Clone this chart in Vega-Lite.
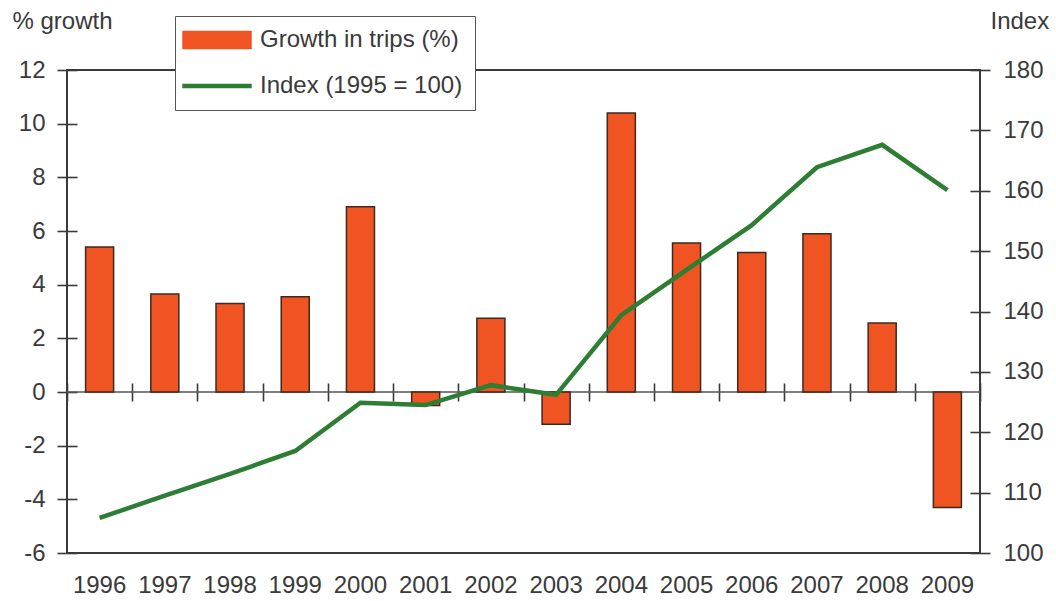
{
  "$schema": "https://vega.github.io/schema/vega-lite/v6.json",
  "width": 913,
  "height": 483,
  "autosize": "none",
  "padding": {"left": 67, "top": 70, "right": 76, "bottom": 48},
  "background": "white",
  "config": {
    "font": "Liberation Sans",
    "view": {"stroke": "#3a3a3a", "strokeWidth": 2},
    "axis": {
      "grid": false,
      "labelFont": "Liberation Sans",
      "labelFontSize": 24,
      "labelColor": "#3a3a3a",
      "titleFont": "Liberation Sans",
      "titleFontSize": 24,
      "titleFontWeight": "normal",
      "titleColor": "#3a3a3a",
      "tickColor": "#3a3a3a",
      "tickWidth": 1.6,
      "domainColor": "#3a3a3a",
      "labelFlush": false,
      "labelOverlap": false
    }
  },
  "data": {
    "values": [
      {"year": "1996", "growth": 5.4, "index": 105.8},
      {"year": "1997", "growth": 3.65, "index": 109.5},
      {"year": "1998", "growth": 3.3, "index": 113.1},
      {"year": "1999", "growth": 3.55, "index": 116.9},
      {"year": "2000", "growth": 6.9, "index": 124.9},
      {"year": "2001", "growth": -0.5, "index": 124.5},
      {"year": "2002", "growth": 2.75, "index": 127.8},
      {"year": "2003", "growth": -1.2, "index": 126.2},
      {"year": "2004", "growth": 10.4, "index": 139.4},
      {"year": "2005", "growth": 5.55, "index": 146.9},
      {"year": "2006", "growth": 5.2, "index": 154.3},
      {"year": "2007", "growth": 5.9, "index": 163.9},
      {"year": "2008", "growth": 2.57, "index": 167.6},
      {"year": "2009", "growth": -4.3, "index": 160.1}
    ]
  },
  "layer": [
    {
      "layer": [
        {
          "data": {"values": [{"zero": 0}]},
          "mark": {"type": "rule", "color": "#555555", "strokeWidth": 1.3},
          "encoding": {
            "y": {"field": "zero", "type": "quantitative"}
          }
        },
        {
          "mark": {"type": "bar", "stroke": "#3b2a20", "strokeWidth": 1.5},
          "encoding": {
            "x": {
              "field": "year",
              "type": "ordinal",
              "scale": {"paddingInner": 0.57, "paddingOuter": 0.285},
              "axis": {
                "orient": "bottom",
                "title": null,
                "ticks": false,
                "domain": false,
                "labelAngle": 0,
                "labelPadding": 20
              }
            },
            "y": {
              "field": "growth",
              "type": "quantitative",
              "scale": {"domain": [-6, 12], "nice": false, "zero": false},
              "axis": {
                "orient": "left",
                "offset": -10,
                "tickSize": 20,
                "domain": false,
                "values": [-6, -4, -2, 0, 2, 4, 6, 8, 10, 12],
                "labelExpr": "toString(datum.value)",
                "labelPadding": 12,
                "title": "% growth",
                "titleAngle": 0,
                "titleAlign": "left",
                "titleBaseline": "alphabetic",
                "titleX": -65,
                "titleY": -42
              }
            },
            "color": {
              "datum": "Growth in trips (%)",
              "scale": {
                "domain": ["Growth in trips (%)", "Index (1995 = 100)"],
                "range": ["#f05423", "#2d7d33"]
              },
              "legend": {
                "title": null,
                "orient": "none",
                "legendX": 108,
                "legendY": -54,
                "direction": "vertical",
                "padding": 12,
                "fillColor": "white",
                "strokeColor": "#555555",
                "symbolSize": 400,
                "symbolType": "M-1.6,-0.85H5.2V0.85H-1.6Z",
                "symbolStrokeWidth": 1.5,
                "labelFont": "Liberation Sans",
                "labelFontSize": 24,
                "labelColor": "#3a3a3a",
                "labelOffset": 49,
                "labelLimit": 400,
                "rowPadding": 22,
                "encode": {
                  "symbols": {
                    "update": {
                      "shape": {"signal": "datum.value === 'Index (1995 = 100)' ? 'M-1.6,-0.15H5.2V0.15H-1.6Z' : 'M-1.6,-0.85H5.2V0.85H-1.6Z'"},
                      "fill": {"signal": "datum.value === 'Index (1995 = 100)' ? '#2d7d33' : '#f05423'"},
                      "stroke": {"signal": "datum.value === 'Index (1995 = 100)' ? '#2d7d33' : '#3b2a20'"},
                      "strokeWidth": {"value": 1.5},
                      "opacity": {"value": 1}
                    }
                  }
                }
              }
            }
          }
        }
      ]
    },
    {
      "mark": {"type": "line", "strokeWidth": 4.5, "strokeJoin": "miter"},
      "encoding": {
        "x": {
          "field": "year",
          "type": "ordinal",
          "scale": {"paddingInner": 0, "paddingOuter": 0},
          "axis": {
            "orient": "bottom",
            "title": null,
            "labels": false,
            "domain": false,
            "ticks": true,
            "tickBand": "extent",
            "tickSize": 18,
            "offset": -170
          }
        },
        "y": {
          "field": "index",
          "type": "quantitative",
          "scale": {"domain": [100, 180], "nice": false, "zero": false},
          "axis": {
            "orient": "right",
            "offset": -10,
            "tickSize": 20,
            "domain": false,
            "values": [100, 110, 120, 130, 140, 150, 160, 170, 180],
            "labelPadding": 13,
            "title": "Index",
            "titleAngle": 0,
            "titleAlign": "left",
            "titleBaseline": "alphabetic",
            "titleX": 20,
            "titleY": -42
          }
        },
        "color": {
          "datum": "Index (1995 = 100)",
          "legend": {
            "title": null,
            "orient": "none",
            "legendX": 108,
            "legendY": -54,
            "direction": "vertical",
            "padding": 12,
            "fillColor": "white",
            "strokeColor": "#555555",
            "symbolSize": 400,
            "symbolType": "M-1.6,-0.85H5.2V0.85H-1.6Z",
            "symbolStrokeWidth": 1.5,
            "labelFont": "Liberation Sans",
            "labelFontSize": 24,
            "labelColor": "#3a3a3a",
            "labelOffset": 49,
            "labelLimit": 400,
            "rowPadding": 22,
            "encode": {
              "symbols": {
                "update": {
                  "shape": {"signal": "datum.value === 'Index (1995 = 100)' ? 'M-1.6,-0.15H5.2V0.15H-1.6Z' : 'M-1.6,-0.85H5.2V0.85H-1.6Z'"},
                  "fill": {"signal": "datum.value === 'Index (1995 = 100)' ? '#2d7d33' : '#f05423'"},
                  "stroke": {"signal": "datum.value === 'Index (1995 = 100)' ? '#2d7d33' : '#3b2a20'"},
                  "strokeWidth": {"value": 1.5},
                  "opacity": {"value": 1}
                }
              }
            }
          }
        }
      }
    }
  ],
  "resolve": {
    "scale": {"y": "independent", "x": "independent"},
    "axis": {"x": "independent"}
  }
}
